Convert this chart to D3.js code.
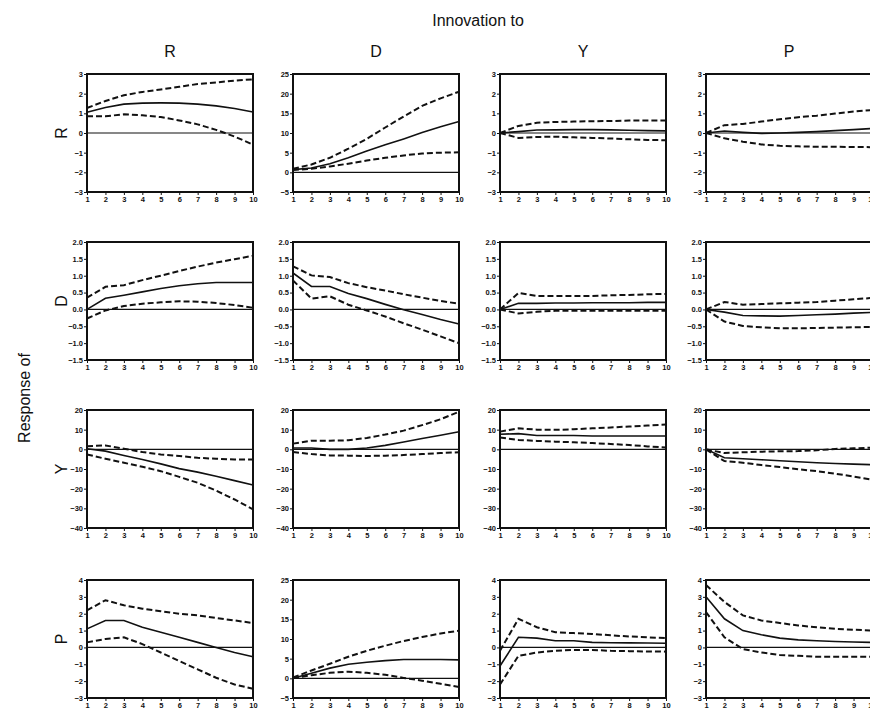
<!DOCTYPE html>
<html>
<head>
<meta charset="utf-8">
<script src="https://cdn.jsdelivr.net/npm/d3@7"></script>
<style>
html,body{margin:0;padding:0;background:#fff;}
svg{display:block;font-family:"Liberation Sans",Arial,sans-serif;}
.axis text{font-size:7.5px;font-weight:bold;fill:#111;}
.axis path,.axis line{stroke:#111;}
</style>
</head>
<body>
<svg id="chart" width="870" height="710"></svg>
<script>
// ---- data ----
const variables = ["R", "D", "Y", "P"];
const periods = [1, 2, 3, 4, 5, 6, 7, 8, 9, 10];

// y-axis tick labels per response row (col 2 of rows R and P differ)
const ticksR = [-3, -2, -1, 0, 1, 2, 3];
const ticksRD = [-5, 0, 5, 10, 15, 20, 25];
const ticksD = [-1.5, -1.0, -0.5, 0.0, 0.5, 1.0, 1.5, 2.0];
const ticksY = [-40, -30, -20, -10, 0, 10, 20];
const ticksP = [-3, -2, -1, 0, 1, 2, 3, 4];
const ticksPD = [-5, 0, 5, 10, 15, 20, 25];

// Response of R
const R_R_mid = [1.05, 1.30, 1.47, 1.52, 1.53, 1.52, 1.47, 1.38, 1.25, 1.07];
const R_R_up  = [1.27, 1.63, 1.92, 2.09, 2.21, 2.35, 2.49, 2.57, 2.66, 2.73];
const R_R_lo  = [0.85, 0.85, 0.95, 0.90, 0.81, 0.64, 0.44, 0.16, -0.18, -0.59];
const R_D_mid = [0.7, 1.1, 2.2, 3.7, 5.4, 7.0, 8.5, 10.1, 11.6, 12.9];
const R_D_up  = [0.9, 2.0, 3.7, 6.0, 8.5, 11.4, 14.2, 16.9, 18.8, 20.5];
const R_D_lo  = [0.6, 0.9, 1.5, 2.2, 3.0, 3.7, 4.3, 4.8, 5.0, 5.1];
const R_Y_mid = [0.0, 0.07, 0.15, 0.16, 0.17, 0.17, 0.16, 0.14, 0.12, 0.11];
const R_Y_up  = [0.0, 0.36, 0.52, 0.56, 0.58, 0.60, 0.61, 0.63, 0.63, 0.63];
const R_Y_lo  = [0.0, -0.25, -0.20, -0.19, -0.22, -0.25, -0.28, -0.32, -0.35, -0.37];
const R_P_mid = [0.0, 0.10, 0.03, -0.02, 0.0, 0.03, 0.07, 0.12, 0.17, 0.23];
const R_P_up  = [0.0, 0.40, 0.46, 0.58, 0.70, 0.80, 0.88, 0.99, 1.09, 1.17];
const R_P_lo  = [0.0, -0.27, -0.44, -0.58, -0.65, -0.68, -0.70, -0.70, -0.71, -0.72];

// Response of D
const D_R_mid = [0.0, 0.33, 0.42, 0.52, 0.62, 0.70, 0.76, 0.80, 0.80, 0.80];
const D_R_up  = [0.35, 0.67, 0.72, 0.87, 1.00, 1.14, 1.27, 1.39, 1.49, 1.59];
const D_R_lo  = [-0.27, -0.03, 0.10, 0.17, 0.21, 0.24, 0.23, 0.19, 0.13, 0.05];
const D_D_mid = [1.08, 0.68, 0.68, 0.47, 0.32, 0.15, -0.01, -0.15, -0.30, -0.43];
const D_D_up  = [1.28, 1.01, 0.96, 0.78, 0.66, 0.56, 0.45, 0.35, 0.25, 0.17];
const D_D_lo  = [0.86, 0.32, 0.39, 0.14, -0.03, -0.21, -0.41, -0.60, -0.80, -1.00];
const D_Y_mid = [0.0, 0.18, 0.18, 0.19, 0.19, 0.20, 0.20, 0.20, 0.21, 0.21];
const D_Y_up  = [0.0, 0.49, 0.40, 0.40, 0.40, 0.40, 0.42, 0.43, 0.45, 0.46];
const D_Y_lo  = [0.0, -0.12, -0.07, -0.04, -0.04, -0.04, -0.04, -0.04, -0.04, -0.04];
const D_P_mid = [0.0, -0.08, -0.18, -0.19, -0.20, -0.18, -0.16, -0.14, -0.11, -0.09];
const D_P_up  = [0.0, 0.22, 0.14, 0.16, 0.18, 0.20, 0.22, 0.26, 0.30, 0.34];
const D_P_lo  = [0.0, -0.36, -0.49, -0.53, -0.56, -0.56, -0.55, -0.54, -0.53, -0.52];

// Response of Y
const Y_R_mid = [0.3, -0.9, -3.1, -5.2, -7.4, -9.8, -11.6, -13.7, -15.9, -18.1];
const Y_R_up  = [1.6, 2.0, 0.3, -1.4, -2.6, -3.4, -4.3, -4.8, -5.2, -5.2];
const Y_R_lo  = [-2.6, -4.8, -6.8, -8.9, -11.1, -14.0, -17.0, -21.0, -25.5, -30.5];
const Y_D_mid = [0.7, 0.7, 0.0, 0.0, 0.7, 2.0, 3.7, 5.5, 7.2, 8.9];
const Y_D_up  = [2.9, 4.4, 4.4, 4.6, 5.8, 7.5, 9.5, 12.3, 15.3, 19.1];
const Y_D_lo  = [-1.4, -2.4, -3.1, -3.2, -3.4, -3.2, -2.9, -2.4, -1.9, -1.5];
const Y_Y_mid = [7.7, 8.0, 7.0, 7.0, 7.0, 6.8, 6.8, 6.8, 6.8, 6.8];
const Y_Y_up  = [9.0, 10.7, 10.0, 9.9, 10.2, 10.7, 11.1, 11.6, 12.1, 12.6];
const Y_Y_lo  = [6.0, 4.8, 4.3, 3.9, 3.6, 3.2, 2.7, 2.2, 1.5, 0.9];
const Y_P_mid = [0.0, -4.3, -4.8, -5.3, -5.8, -6.3, -6.8, -7.2, -7.5, -7.8];
const Y_P_up  = [0.0, -1.9, -1.5, -1.2, -1.0, -0.9, -0.5, 0.2, 0.5, 0.9];
const Y_P_lo  = [0.0, -6.0, -6.8, -8.0, -9.0, -10.1, -11.1, -12.4, -13.8, -15.5];

// Response of P
const P_R_mid = [1.1, 1.6, 1.6, 1.2, 0.9, 0.6, 0.3, 0.0, -0.3, -0.55];
const P_R_up  = [2.2, 2.8, 2.5, 2.3, 2.15, 2.0, 1.9, 1.75, 1.6, 1.45];
const P_R_lo  = [0.3, 0.5, 0.6, 0.2, -0.3, -0.8, -1.3, -1.8, -2.2, -2.45];
const P_D_mid = [0.0, 1.3, 2.6, 3.6, 4.1, 4.5, 4.8, 4.8, 4.8, 4.7];
const P_D_up  = [0.2, 2.0, 3.7, 5.5, 7.0, 8.3, 9.5, 10.5, 11.4, 12.1];
const P_D_lo  = [0.0, 0.8, 1.4, 1.7, 1.4, 0.9, 0.1, -0.6, -1.4, -2.2];
const P_Y_mid = [-1.1, 0.6, 0.55, 0.4, 0.4, 0.3, 0.28, 0.27, 0.26, 0.25];
const P_Y_up  = [-0.2, 1.7, 1.2, 0.9, 0.85, 0.8, 0.72, 0.65, 0.6, 0.55];
const P_Y_lo  = [-2.2, -0.5, -0.3, -0.2, -0.15, -0.15, -0.2, -0.22, -0.24, -0.25];
const P_P_mid = [3.0, 1.7, 1.0, 0.75, 0.55, 0.45, 0.4, 0.35, 0.32, 0.3];
const P_P_up  = [3.7, 2.7, 1.9, 1.6, 1.45, 1.3, 1.2, 1.1, 1.05, 1.0];
const P_P_lo  = [2.1, 0.6, -0.1, -0.3, -0.45, -0.5, -0.55, -0.55, -0.55, -0.55];

const panels = [
  [ {t: ticksR,  m: R_R_mid, u: R_R_up, l: R_R_lo}, {t: ticksRD, m: R_D_mid, u: R_D_up, l: R_D_lo},
    {t: ticksR,  m: R_Y_mid, u: R_Y_up, l: R_Y_lo}, {t: ticksR,  m: R_P_mid, u: R_P_up, l: R_P_lo} ],
  [ {t: ticksD,  m: D_R_mid, u: D_R_up, l: D_R_lo}, {t: ticksD,  m: D_D_mid, u: D_D_up, l: D_D_lo},
    {t: ticksD,  m: D_Y_mid, u: D_Y_up, l: D_Y_lo}, {t: ticksD,  m: D_P_mid, u: D_P_up, l: D_P_lo} ],
  [ {t: ticksY,  m: Y_R_mid, u: Y_R_up, l: Y_R_lo}, {t: ticksY,  m: Y_D_mid, u: Y_D_up, l: Y_D_lo},
    {t: ticksY,  m: Y_Y_mid, u: Y_Y_up, l: Y_Y_lo}, {t: ticksY,  m: Y_P_mid, u: Y_P_up, l: Y_P_lo} ],
  [ {t: ticksP,  m: P_R_mid, u: P_R_up, l: P_R_lo}, {t: ticksPD, m: P_D_mid, u: P_D_up, l: P_D_lo},
    {t: ticksP,  m: P_Y_mid, u: P_Y_up, l: P_Y_lo}, {t: ticksP,  m: P_P_mid, u: P_P_up, l: P_P_lo} ]
];

// ---- layout ----
const svg = d3.select("#chart");
const colX = [87, 293, 500, 706];
const rowY = [74, 242, 410, 580];
const pw = 166, ph = 118;

svg.append("text").attr("x", 478).attr("y", 26).attr("text-anchor", "middle")
  .attr("font-size", 16).attr("fill", "#111").text("Innovation to");

variables.forEach((v, i) => {
  svg.append("text").attr("x", colX[i] + pw / 2).attr("y", 57).attr("text-anchor", "middle")
    .attr("font-size", 16).attr("fill", "#111").text(v);
  const cy = rowY[i] + ph / 2;
  svg.append("text").attr("transform", `translate(67,${cy}) rotate(-90)`).attr("text-anchor", "middle")
    .attr("font-size", 16).attr("fill", "#111").text(v);
});
svg.append("text").attr("transform", "translate(30,398) rotate(-90)").attr("text-anchor", "middle")
  .attr("font-size", 16).attr("fill", "#111").text("Response of");

const fmt1 = d3.format(".1f");

panels.forEach((row, ri) => {
  row.forEach((p, ci) => {
    const g = svg.append("g").attr("transform", `translate(${colX[ci]},${rowY[ri]})`);
    const x = d3.scaleLinear().domain([1, 10]).range([0, pw]);
    const y = d3.scaleLinear().domain([d3.min(p.t), d3.max(p.t)]).range([ph, 0]);

    const ya = d3.axisLeft(y).tickValues(p.t).tickSize(3).tickPadding(1)
      .tickFormat(ri === 1 ? fmt1 : d3.format("d"));
    g.append("g").attr("class", "axis").call(ya).call(s => s.select(".domain").remove());
    const xa = d3.axisBottom(x).tickValues(periods).tickSize(3).tickPadding(2).tickFormat(d3.format("d"));
    g.append("g").attr("class", "axis").attr("transform", `translate(0,${ph})`).call(xa)
      .call(s => s.select(".domain").remove());

    // zero line
    g.append("line").attr("x1", 0).attr("x2", pw).attr("y1", y(0)).attr("y2", y(0))
      .attr("stroke", "#111").attr("stroke-width", 1.2);

    const line = d3.line().x((d, i) => x(periods[i])).y(d => y(d));
    g.append("path").attr("d", line(p.u)).attr("fill", "none").attr("stroke", "#111")
      .attr("stroke-width", 2).attr("stroke-dasharray", "6,3");
    g.append("path").attr("d", line(p.l)).attr("fill", "none").attr("stroke", "#111")
      .attr("stroke-width", 2).attr("stroke-dasharray", "6,3");
    g.append("path").attr("d", line(p.m)).attr("fill", "none").attr("stroke", "#111")
      .attr("stroke-width", 1.6);

    g.append("rect").attr("x", 0).attr("y", 0).attr("width", pw).attr("height", ph)
      .attr("fill", "none").attr("stroke", "#111").attr("stroke-width", 2);
  });
});
</script>
</body>
</html>
